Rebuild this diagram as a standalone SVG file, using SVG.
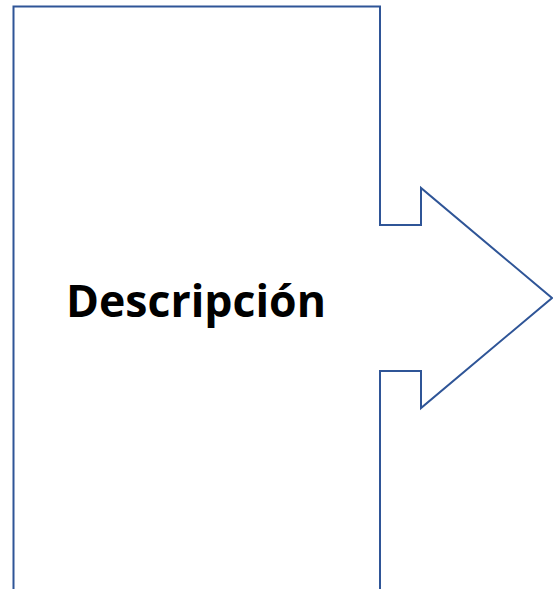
<svg xmlns="http://www.w3.org/2000/svg" width="553" height="589" viewBox="0 0 553 589">
<style>
.shape{fill:#ffffff;stroke:#2f5597;stroke-width:2;stroke-linejoin:miter}
.label{font-family:"Open Sans","Noto Sans","Liberation Sans",sans-serif;font-weight:bold;font-size:45px;fill:#000000}
</style>
<rect width="553" height="589" fill="#ffffff"/>
<g id="descripcion">
<path class="shape" d="M13.5,592 L13.5,6.5 L380,6.5 L380,225 L421,225 L421,188 L552,298 L421,408 L421,371 L380,371 L380,592"/>
<text class="label" x="66" y="317" textLength="260" lengthAdjust="spacingAndGlyphs">Descripción</text>
</g>
</svg>
